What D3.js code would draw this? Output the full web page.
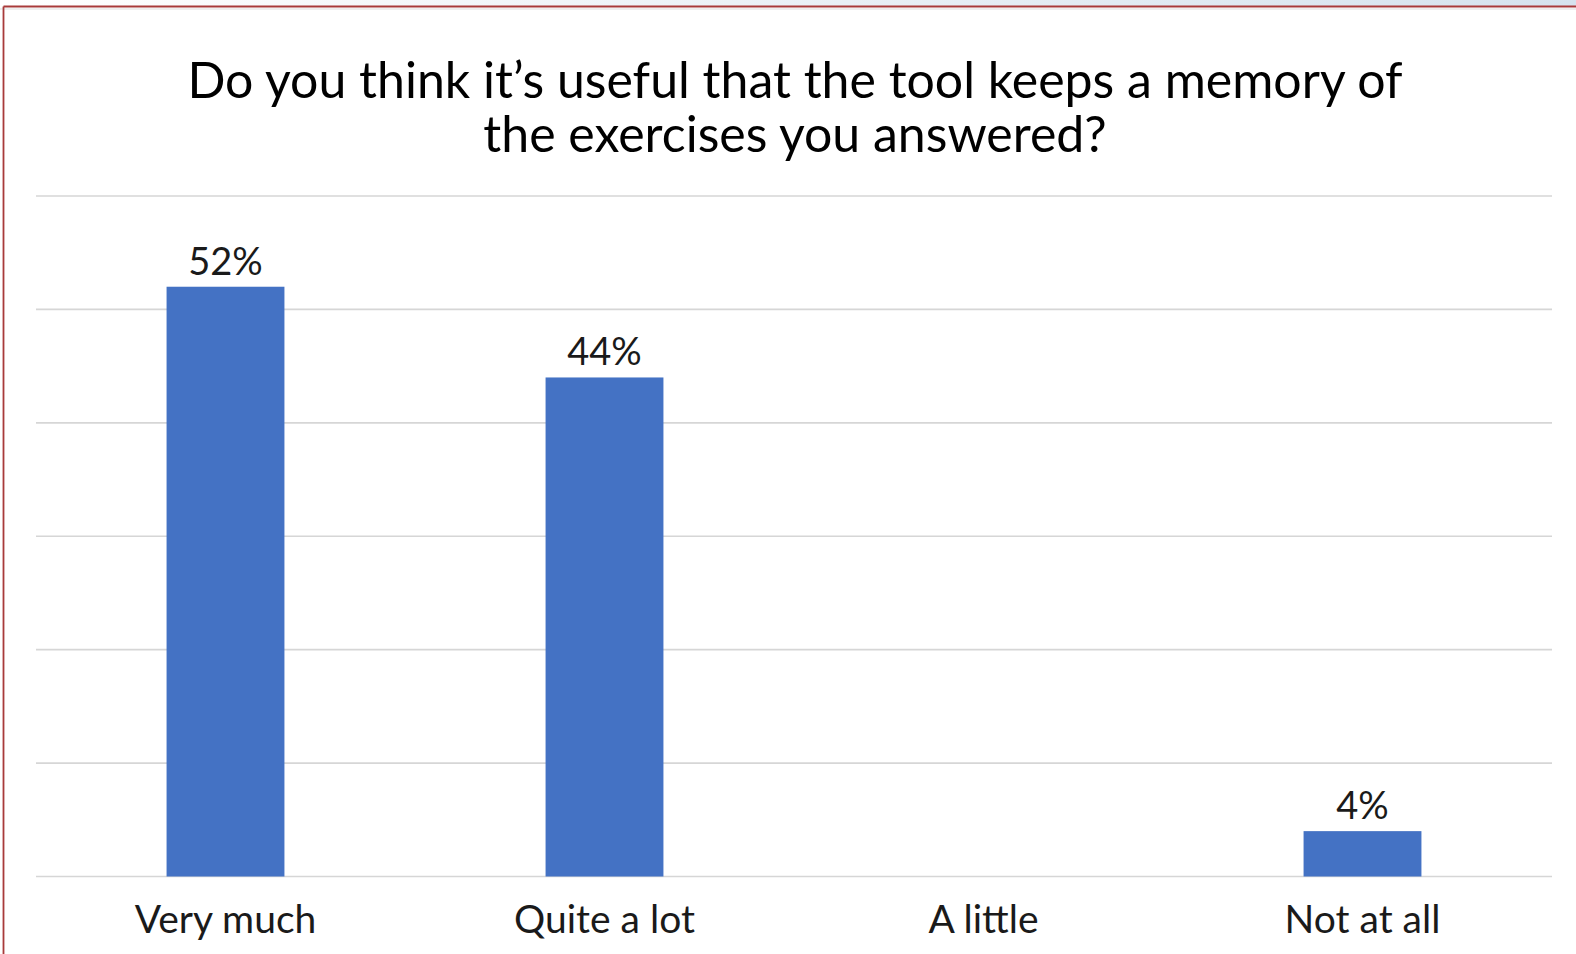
<!DOCTYPE html>
<html>
<head>
<meta charset="utf-8">
<script src="https://cdn.jsdelivr.net/npm/d3@7"></script>
<style>
  html, body { margin: 0; padding: 0; background: #fff; }
  svg { display: block; }
  text { font-family: Lato, "Open Sans", sans-serif; }
</style>
</head>
<body>
<svg id="chart" width="1576" height="954"></svg>
<script>
// Survey answers
const categories = ["Very much", "Quite a lot", "A little", "Not at all"];
const shares = [52, 44, 0, 4];
const yTicks = [0, 10, 20, 30, 40, 50, 60];
const titleLines = [
  "Do you think it\u2019s useful that the tool keeps a memory of",
  "the exercises you answered?"
];

const W = 1576, H = 954;
const plot = { left: 36, right: 1552, top: 196, bottom: 876.5 };

const svg = d3.select("#chart");

// window strip and frame
const defs = svg.append("defs");
const grad = defs.append("linearGradient").attr("id", "strip").attr("x1", 0).attr("x2", 1);
grad.append("stop").attr("offset", 0).attr("stop-color", "#ffffff");
grad.append("stop").attr("offset", 1).attr("stop-color", "#d6e3ee");
svg.append("rect").attr("x", 0).attr("y", 0).attr("width", W).attr("height", 6).attr("fill", "url(#strip)");
svg.append("rect").attr("x", 0).attr("y", 8).attr("width", W).attr("height", 2).attr("fill", "#eeeeee");
svg.append("line").attr("x1", 3.5).attr("x2", W).attr("y1", 6.5).attr("y2", 6.5)
  .attr("stroke", "#a83a3a").attr("stroke-width", 2.2);
svg.append("line").attr("x1", 3.5).attr("x2", 3.5).attr("y1", 6.5).attr("y2", H)
  .attr("stroke", "#a83a3a").attr("stroke-width", 1.8);

const x = d3.scaleBand().domain(categories).range([plot.left, plot.right])
  .paddingInner(0.689).paddingOuter(0.3445);
const y = d3.scaleLinear().domain([0, 60]).range([plot.bottom, plot.top]);

// gridlines
svg.append("g").selectAll("line").data(yTicks).join("line")
  .attr("x1", plot.left).attr("x2", plot.right)
  .attr("y1", d => y(d)).attr("y2", d => y(d))
  .attr("stroke", "#d6d6d6").attr("stroke-width", 1.6);

// bars
const data = categories.map((c, i) => ({ c, v: shares[i] }));
svg.append("g").selectAll("rect").data(data.filter(d => d.v > 0)).join("rect")
  .attr("x", d => x(d.c)).attr("width", x.bandwidth())
  .attr("y", d => y(d.v)).attr("height", d => y(0) - y(d.v))
  .attr("fill", "#4472c4");

// value labels
svg.append("g").selectAll("text").data(data.filter(d => d.v > 0)).join("text")
  .attr("x", d => x(d.c) + x.bandwidth() / 2)
  .attr("y", d => y(d.v) - 12)
  .attr("text-anchor", "middle")
  .attr("font-size", 38).attr("fill", "#1a1a1a")
  .text(d => d.v + "%");

// category axis labels
const xAxis = d3.axisBottom(x).tickSize(0).tickPadding(0);
const gx = svg.append("g").attr("transform", `translate(0,${plot.bottom})`).call(xAxis);
gx.select(".domain").remove();
gx.selectAll("text")
  .attr("font-family", "Lato, sans-serif")
  .attr("font-size", 39).attr("fill", "#1a1a1a")
  .attr("dy", 0).attr("y", 56.5);

// title
svg.append("g").selectAll("text").data(titleLines).join("text")
  .attr("x", 795).attr("y", (d, i) => 98 + i * 54)
  .attr("text-anchor", "middle")
  .attr("font-size", 50).attr("fill", "#000")
  .text(d => d);
</script>
</body>
</html>
